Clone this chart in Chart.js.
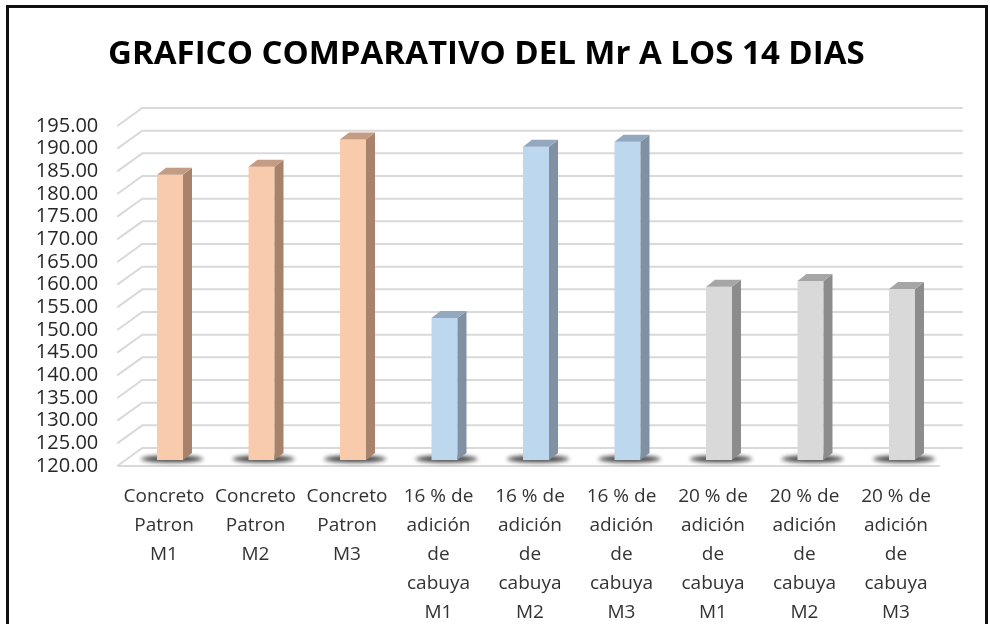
<!DOCTYPE html>
<html>
<head>
<meta charset="utf-8">
<script src="https://cdn.jsdelivr.net/npm/chart.js@4.4.0/dist/chart.umd.min.js"></script>
<style>
  html, body { margin: 0; padding: 0; background: #fff; }
  #wrap { position: relative; width: 990px; height: 624px; overflow: hidden; }
  #frame { position: absolute; left: 6px; top: 5px; width: 976px; height: 660px; border: 3px solid #111; pointer-events: none; }
  canvas { position: absolute; left: 0; top: 0; }
</style>
</head>
<body>
<div id="wrap">
  <canvas id="chart" width="990" height="624"></canvas>
  <div id="frame"></div>
</div>
<script>
const chartTitle = 'GRAFICO COMPARATIVO DEL Mr A LOS 14 DIAS';

const categories = [
    ['Concreto', 'Patron', 'M1'],
    ['Concreto', 'Patron', 'M2'],
    ['Concreto', 'Patron', 'M3'],
    ['16 % de', 'adición', 'de', 'cabuya', 'M1'],
    ['16 % de', 'adición', 'de', 'cabuya', 'M2'],
    ['16 % de', 'adición', 'de', 'cabuya', 'M3'],
    ['20 % de', 'adición', 'de', 'cabuya', 'M1'],
    ['20 % de', 'adición', 'de', 'cabuya', 'M2'],
    ['20 % de', 'adición', 'de', 'cabuya', 'M3']
];

const mrValues = [182.9, 184.7, 190.7, 151.3, 189.1, 190.2, 158.2, 159.5, 157.7];

const yMin = 120;
const yMax = 195;
const yStep = 5;

// front / side / top colours per bar group (patron, 16 %, 20 %)
const frontColors = ['#f8cbad', '#f8cbad', '#f8cbad', '#bdd7ee', '#bdd7ee', '#bdd7ee', '#d9d9d9', '#d9d9d9', '#d9d9d9'];
const sideColors = ['#a8826a', '#a8826a', '#a8826a', '#7f91a3', '#7f91a3', '#7f91a3', '#8c8c8c', '#8c8c8c', '#8c8c8c'];
const topColors = ['#c49c84', '#c49c84', '#c49c84', '#93a8bf', '#93a8bf', '#93a8bf', '#a6a6a6', '#a6a6a6', '#a6a6a6'];

const depthX = 9;
const depthY = 7;

// fake excel 3d look: back wall grid, floor, bar shadows and bar side/top faces
const pseudo3d = {
    id: 'pseudo3d',
    beforeDatasetsDraw(chart) {
        const ctx = chart.ctx;
        const a = chart.chartArea;
        const y = chart.scales.y;
        ctx.save();
        ctx.lineWidth = 2;
        ctx.strokeStyle = '#d9d9d9';
        y.ticks.forEach(t => {
            const p = y.getPixelForValue(t.value);
            ctx.beginPath();
            ctx.moveTo(a.left - 7, p + 6);
            ctx.lineTo(a.left + 18, p - 12);
            ctx.lineTo(a.right + 15, p - 12);
            ctx.stroke();
        });
        const p0 = y.getPixelForValue(yMin);
        ctx.beginPath();
        ctx.moveTo(a.left - 7, p0 + 6);
        ctx.lineTo(a.right - 8, p0 + 6);
        ctx.stroke();

        const meta = chart.getDatasetMeta(0);
        ctx.filter = 'blur(2px)';
        ctx.fillStyle = 'rgba(25,25,25,0.8)';
        meta.data.forEach(bar => {
            ctx.beginPath();
            ctx.ellipse(bar.x + 2, p0 - 1, bar.width * 1.2, 3.5, 0, 0, Math.PI * 2);
            ctx.fill();
        });
        ctx.restore();
    },
    afterDatasetsDraw(chart) {
        const ctx = chart.ctx;
        const meta = chart.getDatasetMeta(0);
        const base = chart.scales.y.getPixelForValue(yMin);
        ctx.save();
        meta.data.forEach((bar, i) => {
            const xl = bar.x - bar.width / 2;
            const xr = bar.x + bar.width / 2;
            ctx.fillStyle = sideColors[i];
            ctx.beginPath();
            ctx.moveTo(xr, bar.y);
            ctx.lineTo(xr + depthX, bar.y - depthY);
            ctx.lineTo(xr + depthX, base - depthY);
            ctx.lineTo(xr, base);
            ctx.closePath();
            ctx.fill();
            ctx.fillStyle = topColors[i];
            ctx.beginPath();
            ctx.moveTo(xl, bar.y);
            ctx.lineTo(xl + depthX, bar.y - depthY);
            ctx.lineTo(xr + depthX, bar.y - depthY);
            ctx.lineTo(xr, bar.y);
            ctx.closePath();
            ctx.fill();
        });
        ctx.restore();
    }
};

const ctx = document.getElementById('chart').getContext('2d');

new Chart(ctx, {
    type: 'bar',
    data: {
        labels: categories,
        datasets: [{
            label: 'Mr',
            data: mrValues,
            base: yMin,
            backgroundColor: frontColors,
            borderWidth: 0,
            categoryPercentage: 1,
            barPercentage: 0.284
        }]
    },
    options: {
        responsive: false,
        animation: false,
        devicePixelRatio: 1,
        layout: { padding: { left: 25, right: 42.25, top: 0, bottom: 0 } },
        plugins: {
            legend: { display: false },
            tooltip: { enabled: false },
            title: {
                display: true,
                text: chartTitle,
                color: '#000',
                font: { family: 'Open Sans', size: 33, weight: 'bold', lineHeight: 1.2 },
                padding: { top: 35, bottom: 45.4 }
            }
        },
        scales: {
            x: {
                grid: { display: false },
                border: { display: false },
                ticks: {
                    autoSkip: false,
                    maxRotation: 0,
                    minRotation: 0,
                    padding: 14,
                    labelOffset: -6,
                    color: '#333',
                    font: { family: 'Open Sans', size: 19, lineHeight: 1.526 }
                },
                afterFit: scale => { scale.height = 164; }
            },
            y: {
                min: yMin,
                max: yMax,
                grid: { display: false, drawTicks: false },
                border: { display: false },
                ticks: {
                    autoSkip: false,
                    stepSize: yStep,
                    padding: 26,
                    labelOffset: 6,
                    color: '#262626',
                    font: { family: 'Open Sans', size: 20 },
                    callback: v => v.toFixed(2)
                },
                afterFit: scale => { scale.width = 99.25; }
            }
        }
    },
    plugins: [pseudo3d]
});
</script>
</body>
</html>
